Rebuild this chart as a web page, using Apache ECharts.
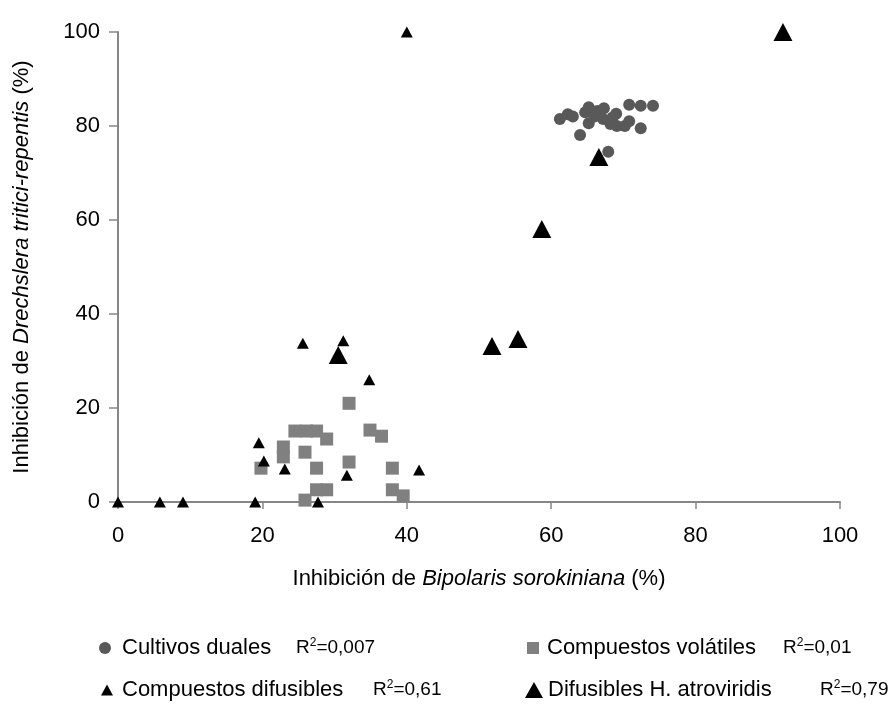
<!DOCTYPE html>
<html>
<head>
<meta charset="utf-8">
<script src="https://cdn.jsdelivr.net/npm/echarts@6/dist/echarts.min.js"></script>
<style>
  html, body { margin: 0; padding: 0; background: #fff; }
  #chart { width: 892px; height: 707px; }
</style>
</head>
<body>
<div id="chart"></div>
<script>
// Inhibition of B. sorokiniana (x, %) vs. D. tritici-repentis (y, %)
const seriesNames = ['Cultivos duales', 'Compuestos volátiles', 'Compuestos difusibles', 'Difusibles H. atroviridis'];
const rSquared = ['0,007', '0,01', '0,61', '0,79'];

const cultivosDuales = [
  [61.2, 81.5], [62.3, 82.5], [63.0, 82.0], [64.7, 82.9], [65.2, 84.0],
  [65.2, 80.6], [66.0, 82.0], [66.4, 83.2], [67.3, 83.8], [67.2, 81.5],
  [68.2, 80.4], [68.5, 81.8], [69.0, 82.6], [69.1, 80.0], [70.2, 80.0],
  [70.8, 84.5], [70.8, 81.0], [72.4, 84.3], [74.1, 84.3], [72.4, 79.5],
  [64.0, 78.1], [67.9, 74.5]
];

const compuestosVolatiles = [
  [32.0, 21.0], [24.5, 15.1], [26.1, 15.1], [27.5, 15.1], [28.9, 13.4],
  [22.9, 11.7], [22.9, 9.6], [25.9, 10.6], [19.8, 7.2], [27.5, 7.2],
  [32.0, 8.5], [34.9, 15.3], [36.5, 14.0], [38.0, 7.2], [27.5, 2.6],
  [28.9, 2.6], [25.9, 0.4], [38.0, 2.6], [39.5, 1.3]
];

const compuestosDifusibles = [
  [40.0, 100], [0, 0], [5.8, 0], [9.0, 0], [19.0, 0], [27.7, 0],
  [19.5, 12.6], [20.2, 8.7], [23.1, 7.0], [25.6, 33.8], [31.2, 34.3],
  [34.8, 26.0], [31.7, 5.7], [41.7, 6.8]
];

const difusiblesAtroviridis = [
  [92.1, 100], [66.6, 73.4], [58.7, 58.1], [51.8, 33.2], [55.4, 34.7], [30.5, 31.3]
];

const axisTicks = { min: 0, max: 100, interval: 20 };

const FONT = '"Liberation Sans", Arial, sans-serif';
const axisGray = '#868686';

// One legend block per series: icon, name, then the R² note at a fixed offset
function legendFor(idx, left, top, icon, iconW, iconH, padLeft, nameWidth) {
  return {
    data: [seriesNames[idx]],
    left: left,
    top: top,
    padding: 0,
    icon: icon,
    itemWidth: iconW,
    itemHeight: iconH,
    itemGap: 0,
    selectedMode: false,
    formatter: function (name) {
      return '{n|' + name + '}{r|R}{s|2}{r|=' + rSquared[idx] + '}';
    },
    textStyle: {
      color: '#000',
      fontFamily: FONT,
      rich: {
        n: { fontSize: 22, fontFamily: FONT, color: '#000', width: nameWidth, padding: [0, 0, 0, padLeft] },
        r: { fontSize: 19, fontFamily: FONT, color: '#000' },
        s: { fontSize: 12, fontFamily: FONT, color: '#000', verticalAlign: 'top', padding: [0, 0, 9, 0] }
      }
    }
  };
}

const chart = echarts.init(document.getElementById('chart'), null, { renderer: 'canvas' });

chart.setOption({
  animation: false,
  backgroundColor: '#fff',
  grid: { left: 118, right: 52, top: 32, bottom: 205, containLabel: false },
  xAxis: {
    type: 'value',
    min: axisTicks.min, max: axisTicks.max, interval: axisTicks.interval,
    name: '{a|Inhibición de }{b|Bipolaris sorokiniana}{a| (%)}',
    nameLocation: 'middle',
    nameGap: 66,
    nameTextStyle: {
      rich: {
        a: { fontSize: 22, fontFamily: FONT, color: '#000' },
        b: { fontSize: 22, fontFamily: FONT, color: '#000', fontStyle: 'italic' }
      }
    },
    axisLine: { lineStyle: { color: axisGray, width: 2 } },
    axisTick: { show: true, inside: false, length: 7, lineStyle: { color: axisGray, width: 1.5 } },
    axisLabel: { fontSize: 22, fontFamily: FONT, color: '#000', margin: 23 },
    splitLine: { show: false }
  },
  yAxis: {
    type: 'value',
    min: axisTicks.min, max: axisTicks.max, interval: axisTicks.interval,
    name: '{a|Inhibición de }{b|Drechslera tritici-repentis}{a| (%)}',
    nameLocation: 'middle',
    nameGap: 85,
    nameRotate: 90,
    nameTextStyle: {
      rich: {
        a: { fontSize: 22, fontFamily: FONT, color: '#000' },
        b: { fontSize: 22, fontFamily: FONT, color: '#000', fontStyle: 'italic' }
      }
    },
    axisLine: { show: true, lineStyle: { color: axisGray, width: 2 } },
    axisTick: { show: true, inside: false, length: 9, lineStyle: { color: axisGray, width: 1.5 } },
    axisLabel: { fontSize: 22, fontFamily: FONT, color: '#000', margin: 18 },
    splitLine: { show: false }
  },
  legend: [
    legendFor(0, 99, 637, 'circle', 12, 12, 6, 174),
    legendFor(1, 527, 637, 'rect', 12, 12, 3, 236),
    legendFor(2, 101, 679, 'triangle', 12, 11, 4, 251),
    legendFor(3, 525, 679, 'triangle', 18, 16, 0, 272)
  ],
  series: [
    {
      name: seriesNames[0], type: 'scatter', data: cultivosDuales,
      symbol: 'circle', symbolSize: 12, clip: false,
      itemStyle: { color: '#595959', opacity: 1 }
    },
    {
      name: seriesNames[1], type: 'scatter', data: compuestosVolatiles,
      symbol: 'rect', symbolSize: 13, clip: false,
      itemStyle: { color: '#808080', opacity: 1 }
    },
    {
      name: seriesNames[2], type: 'scatter', data: compuestosDifusibles,
      symbol: 'triangle', symbolSize: [12, 11], clip: false,
      itemStyle: { color: '#000', opacity: 1 }
    },
    {
      name: seriesNames[3], type: 'scatter', data: difusiblesAtroviridis,
      symbol: 'triangle', symbolSize: [19, 18], clip: false,
      itemStyle: { color: '#000', opacity: 1 }
    }
  ]
});
</script>
</body>
</html>
